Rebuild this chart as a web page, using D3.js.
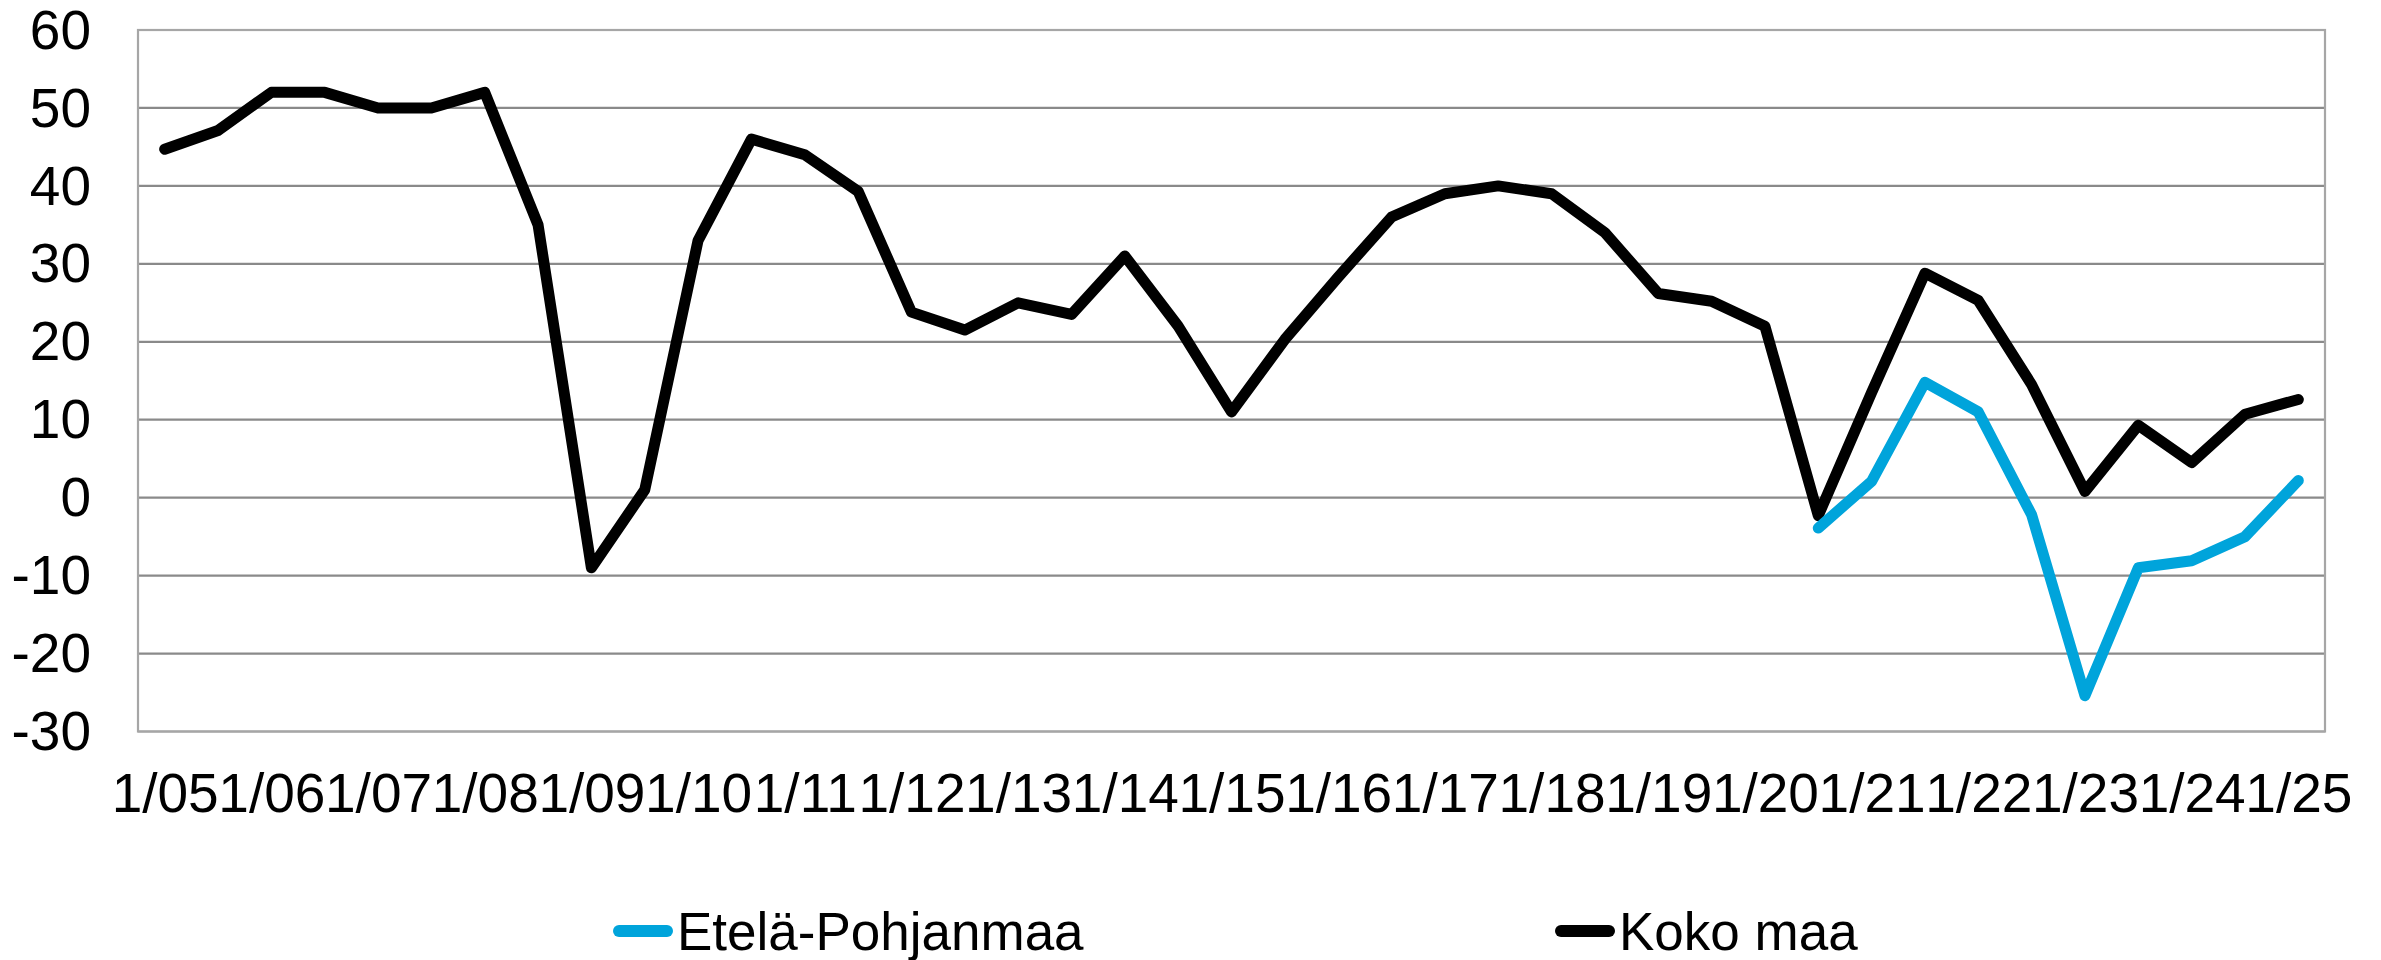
<!DOCTYPE html>
<html>
<head>
<meta charset="utf-8">
<script src="https://cdn.jsdelivr.net/npm/d3@7"></script>
<style>
  html, body { margin: 0; padding: 0; background: #fff; }
  svg { display: block; }
  text { font-family: "Liberation Sans", Arial, sans-serif; fill: #000; }
</style>
</head>
<body>
<svg id="chart" width="2381" height="960"></svg>
<script>
// ---- data ----
const categories = [
  "1/05","7/05","1/06","7/06","1/07","7/07","1/08","7/08","1/09","7/09",
  "1/10","7/10","1/11","7/11","1/12","7/12","1/13","7/13","1/14","7/14",
  "1/15","7/15","1/16","7/16","1/17","7/17","1/18","7/18","1/19","7/19",
  "1/20","7/20","1/21","7/21","1/22","7/22","1/23","7/23","1/24","7/24","1/25"
];
const kokoMaa = [
  44.7, 47.1, 52, 52, 50, 50, 52, 35, -9, 1,
  33, 46, 44, 39.3, 23.8, 21.5, 25, 23.5, 31, 22,
  11, 20.3, 28.3, 36, 39, 40, 39, 34, 26.2, 25.2,
  22, -2.3, 13.5, 28.8, 25.3, 14.5, 0.8, 9.3, 4.5, 10.7, 12.6
];
const etelaPohjanmaa = [
  null, null, null, null, null, null, null, null, null, null,
  null, null, null, null, null, null, null, null, null, null,
  null, null, null, null, null, null, null, null, null, null,
  null, -3.9, 2.1, 14.8, 11, -2.2, -25.4, -9, -8.1, -5, 2.2
];
const yTicks = [-30, -20, -10, 0, 10, 20, 30, 40, 50, 60];
const xTickLabels = categories.filter((c, i) => i % 2 === 0);
const seriesNames = ["Etelä-Pohjanmaa", "Koko maa"];
const seriesColors = ["#00A4DB", "#000000"];

(function () {
  // ---- layout ----
  const svg = d3.select("#chart");
  const plotLeft = 138, plotRight = 2325, plotTop = 30, plotBottom = 731.5;
  const axisFont = 55;
  const legendFont = 53;

  const x = d3.scalePoint().domain(categories).range([plotLeft, plotRight]).padding(0.5);
  const y = d3.scaleLinear().domain([-30, 60]).range([plotBottom, plotTop]);

  // gridlines
  svg.append("g")
    .selectAll("line")
    .data(yTicks)
    .join("line")
    .attr("x1", plotLeft).attr("x2", plotRight)
    .attr("y1", d => y(d)).attr("y2", d => y(d))
    .attr("stroke", d => (d === 60 || d === -30) ? "#a6a6a6" : "#8a8a8a")
    .attr("stroke-width", 2.2);

  // plot border
  svg.append("rect")
    .attr("x", plotLeft).attr("y", plotTop)
    .attr("width", plotRight - plotLeft).attr("height", plotBottom - plotTop)
    .attr("fill", "none").attr("stroke", "#a6a6a6").attr("stroke-width", 2.2);

  // y axis
  const yAxis = d3.axisLeft(y).tickValues(yTicks).tickSize(0).tickPadding(0).tickFormat(d => String(d));
  const gy = svg.append("g").attr("transform", `translate(${plotLeft - 47},0)`).call(yAxis);
  gy.select(".domain").remove();
  gy.selectAll("text")
    .style("font-family", '"Liberation Sans", Arial, sans-serif')
    .style("font-size", axisFont + "px")
    .attr("dy", "0.33em")
    .attr("fill", "#000");

  // x axis
  const xAxis = d3.axisBottom(x).tickValues(xTickLabels).tickSize(0).tickPadding(0);
  const gx = svg.append("g").attr("transform", `translate(0,${plotBottom})`).call(xAxis);
  gx.select(".domain").remove();
  gx.selectAll("text")
    .style("font-family", '"Liberation Sans", Arial, sans-serif')
    .style("font-size", axisFont + "px")
    .attr("dy", null)
    .attr("y", 80)
    .attr("fill", "#000");

  // lines
  const line = d3.line()
    .defined(d => d.v !== null)
    .x(d => x(d.c))
    .y(d => y(d.v));

  const allSeries = [etelaPohjanmaa, kokoMaa];
  [1, 0].forEach(si => {
    const data = categories.map((c, i) => ({ c, v: allSeries[si][i] }));
    svg.append("path")
      .datum(data)
      .attr("d", line)
      .attr("fill", "none")
      .attr("stroke", seriesColors[si])
      .attr("stroke-width", 11)
      .attr("stroke-linejoin", "round")
      .attr("stroke-linecap", "round");
  });

  // legend
  const legendItems = [
    { name: seriesNames[0], color: seriesColors[0], x: 619 },
    { name: seriesNames[1], color: seriesColors[1], x: 1561 }
  ];
  const legendY = 931;
  const lg = svg.append("g");
  legendItems.forEach(it => {
    lg.append("line")
      .attr("x1", it.x).attr("x2", it.x + 48)
      .attr("y1", legendY).attr("y2", legendY)
      .attr("stroke", it.color).attr("stroke-width", 12)
      .attr("stroke-linecap", "round");
    lg.append("text")
      .attr("x", it.x + 58).attr("y", legendY + 19)
      .style("font-size", legendFont + "px")
      .text(it.name);
  });
})();
</script>
</body>
</html>
